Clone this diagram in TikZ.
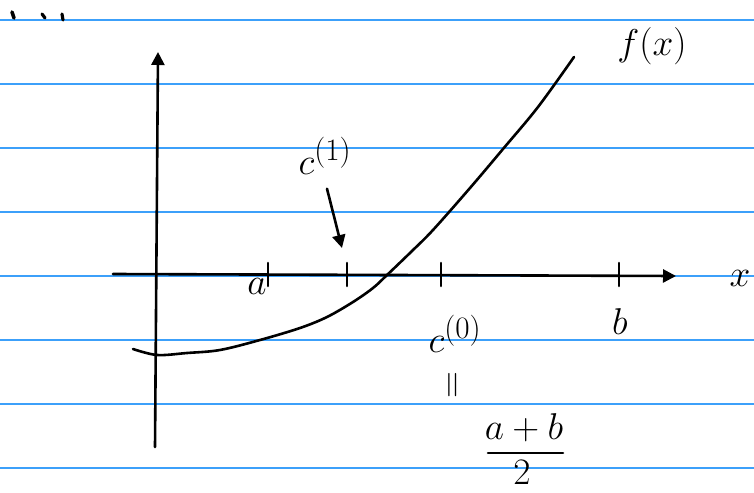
\documentclass[tikz,border=0pt]{standalone}
\usetikzlibrary{arrows.meta}
\definecolor{ruleblue}{RGB}{60,160,250}
\begin{document}
\begin{tikzpicture}[x=1pt,y=-1pt,
  ink/.style={line width=2.6pt, line cap=round, line join=round},
  rulestyle/.style={draw=ruleblue, line width=1.3pt},
  tip/.style={-{Triangle[length=13pt,width=13pt]}},
  lbl/.style={font=\Huge, inner sep=0pt, scale=1.5}]
\useasboundingbox (0,0) rectangle (754,492);
\fill[white] (0,0) rectangle (754,492);
\foreach \y in {20,84,...,468} \draw[rulestyle] (0,\y) -- (754,\y);
% dots
\draw[ink, line width=3.6pt] (12,12) -- (14,18);
\draw[ink, line width=3.2pt] (42,14) -- (45,18);
\draw[ink, line width=3.2pt] (62,14) -- (63,20);
% axes
\coordinate (xs) at (113,274);
\coordinate (xe) at (676,276);
\draw[ink,tip] (xs) -- (xe);
\coordinate (ys) at (155,447);
\coordinate (ye) at (158,52);
\draw[ink,tip] (ys) -- (ye);
% ticks
\foreach \x in {268,347,441,619} \draw[ink] (\x,263) -- (\x,286);
% curve
\draw[ink] plot[smooth, tension=0.55] coordinates {(133,349) (157,355) (187,353) (220,350) (260,340) (300,328) (327,317) (353,302) (373,288) (387,275) (412,251) (433,230) (470,188) (503,149) (538,107) (574,57)};
% labels
\node[lbl] (fx) at (652,46) {$f(x)$};
\node[lbl] (c1) at (325,156) {$c^{(1)}$};
\path (c1.south) ++(2,14) coordinate (c1from);
\coordinate (c1tip) at (342,248);
\draw[ink,tip] (c1from) -- (c1tip);
\node[lbl] (a) at (257,286) {$a$};
\node[lbl] (c0) at (455,334) {$c^{(0)}$};
\node[lbl, rotate=90] (eq) at (455,385) {$=$};
\node[lbl] (ab) at (524,428) {$a+b$};
\node[lbl] (two) at (522,472) {$2$};
\coordinate (barl) at (488,453);
\coordinate (barr) at (563,453);
\draw[ink] (barl) -- (barr);
\node[lbl] (b) at (620,322) {$b$};
\node[lbl] (x) at (740,278) {$x$};
\end{tikzpicture}
\end{document}
